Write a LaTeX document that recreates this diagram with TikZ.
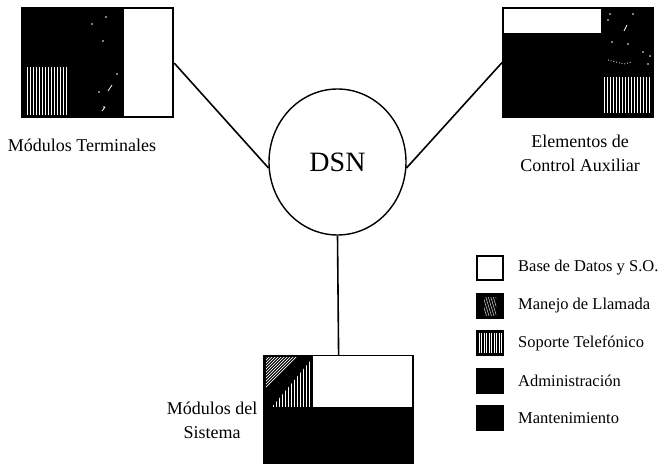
\documentclass[tikz,border=0pt]{standalone}
\usepackage{fontspec}
\setmainfont{Liberation Serif}
\usetikzlibrary{shapes.geometric}
\begin{document}
\begin{tikzpicture}[x=1pt,y=-1pt,
  modbox/.style={draw=black,fill=black,line width=1.2pt,inner sep=0pt,anchor=north west},
  link/.style={line width=1.6pt},
  lbl/.style={font=\fontsize{18}{24}\selectfont,align=center,inner sep=0pt},
  leg/.style={font=\fontsize{16.5}{20}\selectfont,anchor=west,inner sep=0pt},
  legbox/.style={draw=black,line width=1.1pt,minimum width=26pt,minimum height=24pt,inner sep=0pt},
  stripe/.style={white,line width=1.1pt},
  speck/.style={white,line width=0.8pt}]
\useasboundingbox (0,0) rectangle (668,465);

% ---------- top-left module
\node[modbox,minimum width=151pt,minimum height=109pt] (tl) at (22,8) {};
\fill[white] (124,9) rectangle (172.4,116.4);
\draw[line width=1.2pt] (22,8) rectangle (173,117);
\foreach \x in {27.5,30.5,...,69} \draw[stripe] (\x,67) -- (\x,115);
\foreach \a/\b in {92/24,106/17,103/41,117/74,104/107,99/92}
  \fill[white] (\a,\b) circle (0.8);
\draw[speck] (108,91) -- (112,85);
\draw[speck] (102,111) -- (105,107);

% ---------- top-right module
\node[modbox,minimum width=151pt,minimum height=110pt] (tr) at (502,7) {};
\fill[white] (504,9) rectangle (601,33);
\foreach \x in {604.5,607.5,...,651} \draw[stripe] (\x,77) -- (\x,113);
\foreach \a/\b in {610/14,633/14,608/20,628/44,612/42,643/52,650/56,648/64}
  \fill[white] (\a,\b) circle (0.8);
\draw[speck] (624,31) -- (627,25);
\draw[speck,dotted] (608,60) -- (624,64) -- (632,62);

% ---------- bottom module
\node[modbox,minimum width=150pt,minimum height=108pt] (bot) at (263,355) {};
\fill[white] (313,356) rectangle (412.4,407);
\begin{scope}
  \clip (266,357) -- (298,357) -- (266,388) -- cycle;
  \foreach \k in {-40,-37,...,60} \draw[white,line width=0.7pt] (263+\k,400) -- (263+\k+50,350);
\end{scope}
\begin{scope}
  \clip (272,407) -- (311,407) -- (311,360) -- cycle;
  \foreach \x in {273.5,276.5,...,311} \draw[stripe] (\x,355) -- (\x,407);
\end{scope}

% ---------- DSN
\node[ellipse,draw=black,line width=1.4pt,minimum width=137pt,minimum height=146pt,inner sep=0pt,
      font=\fontsize{28}{30}\selectfont] (dsn) at (337.5,162) {DSN};

\draw[link] (tl.east) -- (dsn.185);
\draw[link] (tr.west) -- (dsn.355);
\draw[link] (bot.north) -- (dsn.south);

% ---------- labels
\node[lbl] (ltl) at (82,145) {Módulos Terminales};
\node[lbl] (ltr) at (580,153) {Elementos de\\Control Auxiliar};
\node[lbl] (lbot) at (212,420) {Módulos del\\Sistema};

% ---------- legend
\node[legbox,fill=white] (k1) at (490,268) {};
\node[legbox,fill=black] (k2) at (490,306) {};
\begin{scope}
  \clip (484,297) rectangle (496,315);
  \foreach \k in {-8,-5.5,...,10} \draw[white!75!black,line width=0.6pt] (486+\k,296) -- (492+\k,316);
\end{scope}
\node[legbox,fill=black] (k3) at (490,343) {};
\foreach \x in {479,481.5,...,502} \draw[white,line width=0.9pt] (\x,333) -- (\x,353);
\node[legbox,fill=black] (k4) at (490,381) {};
\node[legbox,fill=black] (k5) at (490,418) {};

\node[leg] (t1) at (518,268) {Base de Datos y S.O.};
\node[leg] (t2) at (518,306) {Manejo de Llamada};
\node[leg] (t3) at (518,343) {Soporte Telefónico};
\node[leg] (t4) at (518,381) {Administración};
\node[leg] (t5) at (518,418) {Mantenimiento};
\end{tikzpicture}
\end{document}
